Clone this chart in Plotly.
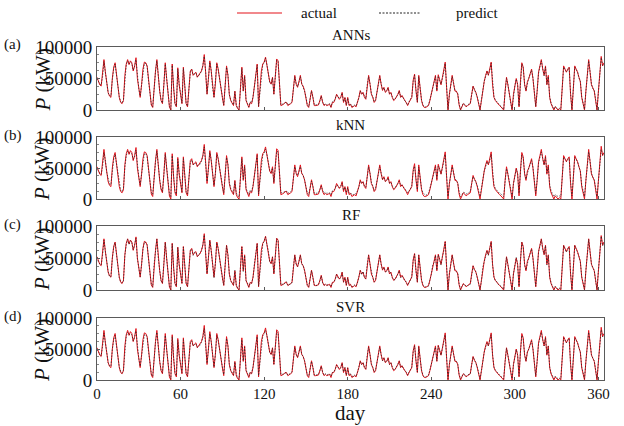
import plotly.graph_objects as go

# ---------------- data (kW, in thousands) ----------------
DAYS = list(range(365))

ACTUAL_K = [
    52, 45, 40, 38, 55, 80, 60, 40, 28, 22,
    20, 50, 68, 75, 55, 35, 20, 12, 10, 15,
    55, 73, 80, 72, 78, 75, 62, 70, 83, 50,
    35, 20, 40, 65, 76, 75, 70, 45, 25, 8,
    4, 40, 62, 80, 50, 30, 15, 10, 40, 75,
    50, 25, 5, 0, 73, 35, 10, 5, 67, 40,
    25, 10, 68, 40, 10, 5, 40, 62, 65, 55,
    58, 60, 52, 55, 57, 62, 70, 88, 60, 25,
    50, 78, 62, 35, 20, 41, 75, 65, 47, 30,
    20, 7, 40, 70, 55, 25, 15, 10, 7, 30,
    7, 2, 0, 35, 68, 30, 55, 15, 10, 4,
    12, 10, 20, 40, 60, 73, 5, 31, 62, 73,
    76, 84, 73, 60, 45, 41, 52, 25, 50, 81,
    78, 41, 7, 8, 9, 12, 12, 7, 8, 10,
    12, 36, 55, 41, 36, 45, 55, 41, 38, 31,
    20, 7, 4, 20, 31, 20, 7, 7, 7, 8,
    15, 23, 12, 7, 9, 7, 8, 9, 4, 12,
    12, 17, 25, 20, 17, 20, 28, 12, 20, 7,
    20, 7, 9, 4, 5, 7, 5, 12, 20, 31,
    25, 28, 20, 17, 41, 55, 41, 25, 20, 12,
    15, 30, 45, 55, 41, 31, 36, 28, 30, 36,
    25, 28, 20, 15, 17, 20, 25, 31, 20, 23,
    18, 15, 12, 7, 12, 15, 20, 47, 57, 31,
    12, 55, 31, 15, 7, 4, 4, 5, 7, 15,
    25, 38, 44, 55, 30, 56, 48, 40, 52, 62,
    76, 35, 0, 25, 40, 55, 42, 30, 30, 25,
    8, 0, 5, 10, 8, 5, 7, 8, 10, 25,
    38, 32, 28, 20, 10, 0, 15, 35, 45, 55,
    62, 55, 65, 76, 40, 20, 15, 12, 10, 7,
    5, 3, 0, 30, 52, 40, 25, 10, 0, 25,
    38, 50, 40, 5, 45, 75, 68, 40, 30, 45,
    50, 58, 65, 50, 25, 5, 30, 60, 70, 80,
    65, 55, 70, 40, 55, 20, 10, 5, 0, 5,
    3, 0, 2, 0, 35, 70, 65, 60, 65, 68,
    25, 0, 35, 70, 65, 60, 52, 45, 20, 10,
    0, 30, 60, 80, 60, 40, 35, 30, 15, 0,
    30, 60, 85, 70, 75,
]

ANN_K = [
    50, 46, 41, 40, 53, 77, 62, 41, 27, 23,
    22, 48, 66, 73, 56, 34, 21, 13, 11, 16,
    53, 72, 78, 73, 76, 74, 63, 69, 80, 51,
    34, 22, 41, 63, 74, 74, 69, 46, 24, 9,
    5, 39, 61, 78, 51, 31, 16, 11, 41, 73,
    51, 24, 6, 1, 71, 36, 11, 6, 65, 41,
    24, 11, 66, 41, 11, 6, 41, 60, 64, 56,
    57, 59, 53, 54, 58, 61, 71, 85, 61, 26,
    49, 76, 63, 34, 21, 42, 73, 64, 48, 29,
    21, 8, 39, 68, 56, 24, 16, 11, 8, 29,
    8, 3, 1, 34, 66, 31, 53, 16, 11, 5,
    13, 11, 21, 41, 58, 71, 6, 32, 60, 72,
    75, 82, 72, 61, 44, 42, 51, 26, 49, 79,
    77, 42, 8, 9, 10, 11, 13, 8, 9, 11,
    13, 35, 53, 42, 37, 44, 53, 42, 37, 30,
    21, 8, 5, 19, 30, 21, 8, 8, 8, 9,
    14, 22, 13, 8, 10, 8, 9, 10, 5, 13,
    13, 18, 24, 21, 18, 21, 27, 13, 19, 8,
    19, 8, 10, 5, 6, 8, 6, 13, 19, 30,
    26, 27, 21, 18, 40, 53, 42, 26, 21, 13,
    16, 31, 44, 53, 42, 32, 35, 29, 31, 35,
    26, 27, 21, 16, 18, 21, 24, 30, 21, 22,
    19, 16, 13, 8, 13, 16, 21, 45, 55, 32,
    13, 53, 32, 16, 8, 5, 5, 6, 8, 16,
    26, 37, 45, 53, 31, 54, 47, 41, 51, 60,
    74, 36, 1, 24, 41, 53, 43, 31, 29, 26,
    9, 1, 6, 11, 9, 6, 8, 9, 11, 24,
    37, 33, 27, 21, 11, 1, 16, 34, 46, 53,
    61, 56, 63, 74, 41, 21, 16, 13, 11, 8,
    6, 4, 1, 29, 50, 41, 24, 11, 1, 24,
    39, 49, 41, 6, 44, 73, 67, 41, 31, 44,
    51, 57, 63, 51, 26, 6, 29, 58, 69, 78,
    66, 54, 68, 41, 53, 21, 11, 6, 1, 6,
    4, 1, 3, 1, 34, 68, 64, 61, 63, 67,
    26, 1, 34, 68, 64, 61, 51, 46, 21, 11,
    1, 29, 58, 78, 61, 41, 34, 31, 16, 1,
    29, 58, 83, 71, 73,
]

KNN_K = [
    48, 44, 42, 40, 52, 75, 63, 43, 30, 24,
    23, 47, 64, 72, 57, 37, 22, 14, 12, 17,
    51, 70, 77, 74, 75, 73, 64, 68, 79, 52,
    36, 23, 42, 62, 73, 73, 68, 47, 27, 11,
    7, 38, 60, 77, 52, 32, 17, 12, 39, 72,
    52, 27, 8, 3, 70, 37, 12, 8, 64, 42,
    27, 12, 65, 42, 12, 8, 39, 59, 63, 56,
    56, 58, 54, 55, 56, 61, 69, 84, 62, 28,
    48, 75, 63, 36, 22, 40, 72, 65, 49, 31,
    22, 10, 38, 67, 56, 27, 17, 12, 9, 28,
    10, 5, 3, 33, 65, 32, 52, 17, 12, 7,
    14, 12, 22, 39, 57, 70, 8, 30, 59, 71,
    74, 80, 72, 61, 46, 43, 50, 27, 48, 77,
    76, 43, 10, 10, 11, 12, 13, 9, 10, 12,
    14, 34, 52, 43, 38, 44, 52, 42, 38, 31,
    22, 9, 7, 19, 29, 21, 9, 9, 9, 10,
    15, 21, 14, 9, 11, 9, 10, 10, 7, 13,
    14, 17, 23, 21, 18, 21, 26, 14, 19, 10,
    18, 9, 10, 7, 7, 9, 8, 13, 19, 29,
    26, 27, 21, 19, 39, 52, 42, 27, 21, 14,
    17, 30, 43, 52, 42, 32, 34, 29, 30, 34,
    26, 27, 21, 17, 18, 21, 25, 29, 22, 22,
    19, 17, 14, 10, 13, 16, 22, 44, 53, 33,
    15, 51, 32, 17, 10, 7, 6, 7, 9, 17,
    26, 36, 44, 52, 33, 53, 47, 41, 50, 59,
    72, 37, 4, 25, 40, 52, 43, 32, 30, 26,
    11, 4, 7, 11, 10, 8, 9, 10, 12, 25,
    36, 32, 28, 22, 13, 4, 17, 33, 45, 52,
    60, 56, 62, 72, 42, 23, 17, 14, 12, 9,
    8, 6, 4, 29, 49, 41, 26, 13, 4, 25,
    37, 48, 41, 9, 43, 71, 66, 42, 32, 44,
    50, 56, 62, 51, 28, 9, 30, 57, 67, 76,
    66, 55, 67, 42, 52, 23, 13, 8, 4, 7,
    6, 4, 5, 4, 34, 67, 64, 61, 63, 66,
    28, 5, 35, 67, 64, 60, 52, 45, 23, 13,
    4, 29, 57, 76, 61, 42, 35, 31, 18, 4,
    29, 57, 80, 71, 72,
]

RF_K = [
    51, 44, 41, 39, 54, 78, 61, 42, 29, 21,
    21, 49, 67, 74, 54, 36, 19, 13, 11, 14,
    54, 71, 79, 71, 77, 74, 63, 71, 81, 49,
    36, 21, 39, 64, 75, 74, 71, 44, 26, 9,
    5, 41, 61, 79, 49, 31, 14, 11, 39, 74,
    49, 26, 6, 1, 72, 34, 11, 6, 66, 39,
    26, 11, 67, 39, 11, 6, 41, 61, 64, 54,
    59, 59, 53, 54, 58, 61, 71, 86, 59, 26,
    51, 77, 61, 36, 19, 42, 74, 64, 46, 31,
    19, 8, 41, 69, 54, 26, 14, 11, 8, 31,
    8, 3, 1, 36, 67, 29, 54, 14, 11, 5,
    11, 11, 19, 41, 59, 72, 6, 30, 61, 72,
    77, 83, 71, 61, 44, 42, 51, 26, 51, 80,
    77, 40, 8, 9, 8, 11, 13, 8, 7, 11,
    11, 37, 54, 40, 37, 44, 54, 40, 39, 30,
    21, 8, 5, 21, 30, 19, 8, 6, 8, 9,
    14, 22, 11, 8, 8, 8, 9, 8, 5, 11,
    13, 16, 24, 19, 18, 19, 27, 13, 19, 8,
    19, 8, 8, 5, 6, 8, 6, 11, 21, 30,
    24, 29, 19, 18, 40, 54, 40, 26, 19, 13,
    16, 29, 44, 54, 40, 32, 35, 29, 29, 35,
    26, 27, 19, 16, 16, 21, 24, 30, 19, 22,
    19, 14, 13, 8, 11, 16, 21, 46, 56, 30,
    13, 54, 30, 16, 8, 5, 5, 6, 6, 16,
    24, 39, 43, 54, 31, 55, 47, 39, 53, 61,
    75, 34, 1, 26, 39, 54, 41, 31, 29, 26,
    9, 1, 6, 9, 9, 6, 6, 9, 9, 26,
    37, 31, 29, 19, 11, 1, 14, 36, 44, 54,
    61, 54, 66, 75, 39, 21, 14, 13, 9, 8,
    6, 4, 1, 31, 51, 39, 26, 11, 1, 26,
    37, 51, 39, 6, 46, 74, 67, 39, 31, 44,
    51, 57, 64, 49, 26, 6, 31, 59, 69, 79,
    64, 56, 69, 39, 54, 21, 11, 6, 1, 6,
    4, 1, 3, 1, 36, 69, 64, 59, 64, 67,
    26, 1, 36, 69, 64, 59, 53, 44, 21, 11,
    1, 31, 59, 79, 59, 41, 34, 31, 14, 1,
    31, 59, 84, 69, 74,
]

SVR_K = [
    49, 46, 42, 39, 54, 76, 61, 42, 28, 23,
    22, 49, 65, 72, 56, 36, 21, 14, 11, 16,
    53, 71, 77, 73, 75, 73, 63, 69, 79, 51,
    35, 22, 41, 63, 73, 73, 69, 46, 26, 10,
    6, 40, 61, 77, 51, 31, 16, 12, 41, 72,
    50, 26, 7, 2, 70, 36, 12, 7, 64, 41,
    26, 12, 65, 41, 11, 7, 40, 60, 63, 55,
    57, 58, 53, 55, 56, 61, 69, 83, 61, 27,
    50, 75, 62, 35, 21, 41, 72, 64, 48, 30,
    21, 9, 40, 67, 55, 26, 16, 11, 8, 29,
    9, 4, 2, 34, 65, 31, 53, 16, 11, 6,
    13, 11, 21, 40, 58, 70, 7, 31, 60, 71,
    74, 80, 72, 60, 45, 42, 51, 26, 49, 78,
    76, 42, 9, 9, 10, 12, 12, 8, 9, 11,
    13, 36, 53, 42, 37, 45, 53, 42, 38, 31,
    21, 8, 6, 20, 30, 21, 8, 8, 8, 9,
    15, 22, 13, 8, 10, 8, 9, 10, 6, 12,
    13, 17, 24, 20, 18, 20, 27, 13, 20, 8,
    19, 8, 10, 6, 6, 8, 6, 12, 20, 30,
    25, 28, 21, 18, 40, 53, 41, 26, 20, 13,
    16, 30, 44, 53, 41, 31, 35, 29, 30, 35,
    25, 28, 21, 16, 17, 21, 25, 30, 21, 23,
    18, 16, 13, 8, 12, 16, 21, 45, 55, 32,
    13, 53, 31, 16, 8, 5, 5, 6, 8, 16,
    25, 38, 44, 53, 31, 55, 47, 40, 51, 60,
    73, 36, 2, 25, 40, 53, 42, 31, 30, 25,
    9, 2, 6, 10, 9, 6, 8, 9, 10, 25,
    37, 32, 28, 21, 11, 2, 15, 35, 45, 53,
    60, 55, 64, 73, 41, 21, 16, 13, 11, 8,
    6, 4, 2, 30, 51, 40, 25, 11, 2, 25,
    38, 49, 40, 7, 45, 72, 66, 41, 31, 45,
    50, 57, 63, 50, 26, 7, 30, 58, 68, 77,
    65, 55, 68, 41, 54, 21, 11, 6, 2, 6,
    4, 2, 3, 2, 35, 68, 64, 60, 64, 67,
    26, 2, 35, 68, 64, 60, 52, 45, 21, 11,
    2, 30, 58, 77, 60, 41, 35, 31, 16, 2,
    30, 58, 81, 70, 73,
]

MODEL_NAMES = ["ANNs", "kNN", "RF", "SVR"]
PANEL_LABELS = ["(a)", "(b)", "(c)", "(d)"]
PREDICTIONS_K = [ANN_K, KNN_K, RF_K, SVR_K]
SERIES_NAMES = ["actual", "predict"]
Y_TICK_VALUES = [0, 50000, 100000]
Y_TICK_TEXT = ["0", "50000", "100000"]
X_TICK_VALUES = [0, 60, 120, 180, 240, 300, 360]
X_TICK_TEXT = ["0", "60", "120", "180", "240", "300", "360"]
KW_PER_UNIT = 1000

# ---------------- layout geometry ----------------
W, H = 624, 426
FONT = "Liberation Serif"
PANEL_PX = [(47, 110), (137, 199), (226, 290), (318, 380)]  # top, bottom (px)
TITLE_PX = [35, 125, 215, 307]
RED = "#e3121b"
DARK = "#222222"
AXIS_COLOR = "#5a5a5a"


def px_x(p):
    return p / W


def px_y(p):
    return 1 - p / H


X_DOMAIN = [px_x(97), px_x(604)]

fig = go.Figure()

layout_axes = {}
annotations = []
for i, (name, label, pred) in enumerate(zip(MODEL_NAMES, PANEL_LABELS, PREDICTIONS_K)):
    n = i + 1
    xa = "x" if n == 1 else f"x{n}"
    ya = "y" if n == 1 else f"y{n}"
    actual = [v * KW_PER_UNIT for v in ACTUAL_K]
    predict = [v * KW_PER_UNIT for v in pred]
    fig.add_trace(go.Scatter(
        x=DAYS, y=actual, mode="lines", name=SERIES_NAMES[0],
        line=dict(color=RED, width=1.0),
        xaxis=xa, yaxis=ya, showlegend=False,
    ))
    fig.add_trace(go.Scatter(
        x=DAYS, y=predict, mode="lines", name=SERIES_NAMES[1],
        line=dict(color=DARK, width=0.7, dash="1.5px,1.5px"),
        xaxis=xa, yaxis=ya, showlegend=False,
    ))

    top, bot = PANEL_PX[i]
    ydom = [px_y(bot), px_y(top)]
    xkey = "xaxis" if n == 1 else f"xaxis{n}"
    ykey = "yaxis" if n == 1 else f"yaxis{n}"
    last = (i == len(MODEL_NAMES) - 1)
    layout_axes[xkey] = dict(
        domain=X_DOMAIN, anchor=ya, range=[0, 364], automargin=False,
        tickvals=X_TICK_VALUES, ticktext=X_TICK_TEXT,
        showticklabels=last, ticks="inside", ticklen=3,
        tickcolor=AXIS_COLOR, showline=True, linecolor=AXIS_COLOR, linewidth=1,
        mirror=True, showgrid=False, zeroline=False,
        tickfont=dict(family=FONT, size=15, color="#111"),
    )
    layout_axes[ykey] = dict(
        domain=ydom, anchor=xa, range=[0, 100000], automargin=False,
        tickvals=Y_TICK_VALUES, ticktext=Y_TICK_TEXT,
        ticks="inside", ticklen=3, tickcolor=AXIS_COLOR,
        minor=dict(ticks="inside", ticklen=2, dtick=12500, tickcolor="#888"),
        showline=True, linecolor=AXIS_COLOR, linewidth=1, mirror=True,
        showgrid=False, zeroline=False,
        tickfont=dict(family=FONT, size=19, color="#111"),
    )
    # model title
    annotations.append(dict(
        text=name, x=(X_DOMAIN[0] + X_DOMAIN[1]) / 2, y=px_y(TITLE_PX[i]),
        xref="paper", yref="paper", showarrow=False, yanchor="middle",
        font=dict(family=FONT, size=15, color="#111"),
    ))
    # panel label
    annotations.append(dict(
        text=label, x=px_x(2), y=px_y(top - 2), xref="paper", yref="paper",
        showarrow=False, xanchor="left", yanchor="middle",
        font=dict(family=FONT, size=15, color="#111"),
    ))
    # y-axis title
    annotations.append(dict(
        text="<i>P</i> (kW)", x=px_x(42), y=px_y((top + bot) / 2 + 2),
        xref="paper", yref="paper", showarrow=False, textangle=-90,
        xanchor="center", yanchor="middle",
        font=dict(family=FONT, size=21, color="#111"),
    ))

annotations.append(dict(
    text="day", x=(X_DOMAIN[0] + X_DOMAIN[1]) / 2, y=px_y(413),
    xref="paper", yref="paper", showarrow=False, yanchor="middle",
    font=dict(family=FONT, size=21, color="#111"),
))

# manual legend (samples + labels)
LEGEND_Y = 13
shapes = [
    dict(type="line", xref="paper", yref="paper",
         x0=px_x(237), x1=px_x(282), y0=px_y(LEGEND_Y), y1=px_y(LEGEND_Y),
         line=dict(color=RED, width=1.2)),
    dict(type="line", xref="paper", yref="paper",
         x0=px_x(379), x1=px_x(421), y0=px_y(LEGEND_Y), y1=px_y(LEGEND_Y),
         line=dict(color=DARK, width=1, dash="2px,1.5px")),
]
annotations.append(dict(
    text=SERIES_NAMES[0], x=px_x(299), y=px_y(LEGEND_Y), xref="paper", yref="paper",
    showarrow=False, xanchor="left", yanchor="middle",
    font=dict(family=FONT, size=15, color="#111"),
))
annotations.append(dict(
    text=SERIES_NAMES[1], x=px_x(454), y=px_y(LEGEND_Y), xref="paper", yref="paper",
    showarrow=False, xanchor="left", yanchor="middle",
    font=dict(family=FONT, size=15, color="#111"),
))

fig.update_layout(
    width=W, height=H,
    margin=dict(l=0, r=0, t=0, b=0, autoexpand=False),
    paper_bgcolor="white", plot_bgcolor="white",
    font=dict(family=FONT, size=13, color="#111"),
    showlegend=False,
    annotations=annotations,
    shapes=shapes,
    **layout_axes,
)

# remove the browser's default 8px page margin so the figure fills the window
fig.write_html(
    "out.html",
    config={"displayModeBar": False},
    post_script="document.body.style.margin='0px';document.body.style.overflow='hidden';",
)
